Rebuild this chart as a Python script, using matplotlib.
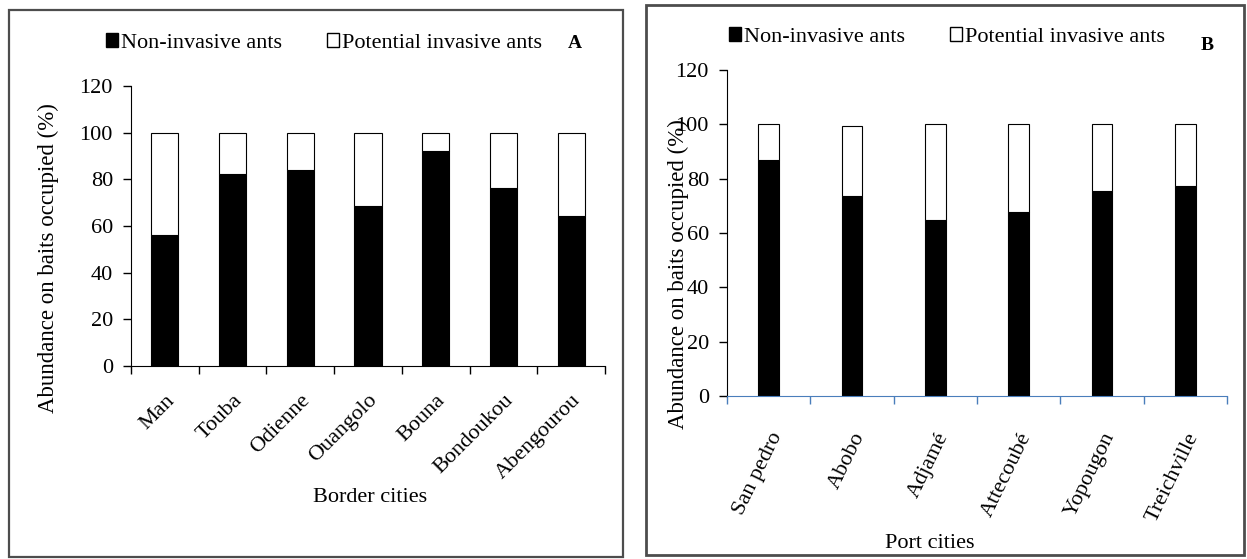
import matplotlib
matplotlib.use("Agg")
import matplotlib.pyplot as plt
from matplotlib.patches import Patch, Rectangle
import numpy as np

plt.rcParams['font.family'] = ['Liberation Serif', 'DejaVu Serif']

# data
border_cities = ["Man", "Touba", "Odienne", "Ouangolo", "Bouna", "Bondoukou", "Abengourou"]
border_non = [56, 82.3, 84.2, 68.4, 92.3, 76.2, 64.4]
border_pot = [44, 17.7, 15.8, 31.6, 7.7, 23.8, 35.6]

port_cities = ["San pedro", "Abobo", "Adjamé", "Attecoubé", "Yopougon", "Treichville"]
port_non = [87, 73.6, 64.8, 67.6, 75.6, 77.3]
port_pot = [13, 25.9, 35.2, 32.4, 24.4, 22.7]

W, H = 1247, 559
fig = plt.figure(figsize=(W / 100, H / 100), dpi=100)


def fx(px):
    return px / W


def fy(py):
    return 1 - py / H


def panel(rect, cats, non, pot, width, axcol, rot, pad, lab_pos, letter, letter_pos, leg_pos, xlab, xlab_pos):
    ax = fig.add_axes(rect)
    x = np.arange(len(cats))
    ax.bar(x, non, width, color="black", edgecolor="black", linewidth=0.8)
    ax.bar(x, pot, width, bottom=non, color="white", edgecolor="black", linewidth=0.8)
    ax.set_xlim(-0.5, len(cats) - 0.5)
    ax.set_ylim(0, 120)
    ax.set_yticks(range(0, 121, 20))
    ax.tick_params(axis="y", direction="out", length=6, width=1, labelsize=16, pad=7)
    ax.set_xticks(x)
    ax.set_xticklabels(cats, rotation=rot, ha="right", va="top", rotation_mode="anchor", fontsize=16)
    ax.tick_params(axis="x", which="major", length=0, pad=pad)
    ax.set_xticks(np.arange(len(cats) + 1) - 0.5, minor=True)
    ax.tick_params(axis="x", which="minor", direction="out", length=6, width=1, colors=axcol)
    for s in ["top", "right"]:
        ax.spines[s].set_visible(False)
    ax.spines["bottom"].set_color(axcol)
    ax.spines["left"].set_color("black")
    fig.text(fx(lab_pos[0]), fy(lab_pos[1]), "Abundance on baits occupied (%)", rotation=90,
             ha="center", va="center", fontsize=16.5)
    fig.text(fx(letter_pos[0]), fy(letter_pos[1]), letter, fontweight="bold", ha="center", va="center", fontsize=14)
    handles = [Patch(facecolor="black", edgecolor="black", label="Non-invasive ants"),
               Patch(facecolor="white", edgecolor="black", label="Potential invasive ants")]
    fig.legend(handles=handles, loc="center", bbox_to_anchor=(fx(leg_pos[0]), fy(leg_pos[1])), ncol=2,
               frameon=False, fontsize=16, handlelength=0.55, handleheight=0.55, handletextpad=0.15,
               columnspacing=2.0)
    fig.text(fx(xlab_pos[0]), fy(xlab_pos[1]), xlab, ha="center", va="center", fontsize=16)
    return ax


# panel A
fig.patches.append(Rectangle((fx(9), fy(557)), fx(614), 547 / H, transform=fig.transFigure,
                             fill=False, edgecolor="#4d4d4d", linewidth=1.6))
panel([fx(131), fy(366), fx(605 - 131), (366 - 86) / H], border_cities, border_non, border_pot, 0.4,
      "black", 45, 18, (48, 258), "A", (575, 43), (324, 43), "Border cities", (370, 497))

# panel B
fig.patches.append(Rectangle((fx(646), fy(555)), fx(598), 550 / H, transform=fig.transFigure,
                             fill=False, edgecolor="#4d4d4d", linewidth=2))
panel([fx(727), fy(396), fx(1227 - 727), (396 - 70) / H], port_cities, port_non, port_pot, 0.25,
      "#4a7ebb", 64, 24, (678, 274), "B", (1207, 45), (947, 37), "Port cities", (930, 543))

fig.savefig("out.png", dpi=100)
